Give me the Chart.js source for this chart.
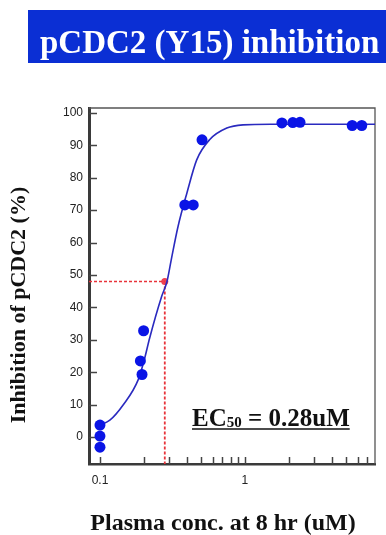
<!DOCTYPE html>
<html>
<head>
<meta charset="utf-8">
<script src="https://cdn.jsdelivr.net/npm/chart.js@4/dist/chart.umd.min.js"></script>
<style>
  html, body { margin: 0; padding: 0; background: #fff; }
  #wrap { width: 386px; height: 535px; position: relative; }
</style>
</head>
<body>
<div id="wrap"><canvas id="grafico"></canvas></div>
<script>
// valores
const pontosX = [0.1, 0.1, 0.1, 0.19, 0.195, 0.2, 0.385, 0.44, 0.506, 1.8, 2.14, 2.4, 5.5, 6.4];
const pontosY = [3.7, 0.3, -3.1, 23.5, 19.3, 32.8, 71.6, 71.6, 91.7, 96.9, 97.0, 97.1, 96.1, 96.1];

const curvaX = [0.1, 0.117, 0.144, 0.184, 0.202, 0.22, 0.267, 0.29, 0.31, 0.345, 0.398, 0.465, 0.57, 0.75, 0.97, 1.5, 3, 7.9];
const curvaY = [3.7, 5.2, 9.8, 17.8, 23.8, 30.5, 43.5, 48, 54.6, 64.8, 75.3, 85.5, 91.7, 95.3, 96.3, 96.5, 96.5, 96.5];

const ec50X = 0.28;
const ec50Y = 48;

const ticksY = [0, 10, 20, 30, 40, 50, 60, 70, 80, 90, 100];
const ticksX = [0.1, 0.2, 0.3, 0.4, 0.5, 0.6, 0.7, 0.8, 0.9, 1, 2, 3, 4, 5, 6, 7];
const rotulosX = [0.1, 1];

const limitesX = [0.084, 7.9];
const limitesY = [-8.3, 101.5];

const titulo = 'pCDC2 (Y15) inhibition';
const tituloY = 'Inhibition of pCDC2 (%)';
const tituloX = 'Plasma conc. at 8 hr (uM)';

const juntar = (xs, ys) => xs.map((x, i) => ({ x: x, y: ys[i] }));

// desenha título, eixos e anotação EC50
const decoracao = {
    id: 'decoracao',
    beforeDraw(chart) {
        const ctx = chart.ctx;
        ctx.save();
        ctx.fillStyle = '#0b2fd4';
        ctx.fillRect(28, 10, 358, 53);
        ctx.fillStyle = '#ffffff';
        ctx.font = 'bold 33px "Liberation Serif"';
        ctx.textBaseline = 'alphabetic';
        ctx.fillText(titulo, 40, 53, 342);
        ctx.restore();
    },
    beforeDatasetsDraw(chart) {
        const ctx = chart.ctx;
        const a = chart.chartArea;
        const sx = chart.scales.x;
        const sy = chart.scales.y;
        ctx.save();
        // bordas superior e direita
        ctx.strokeStyle = '#555';
        ctx.lineWidth = 1.3;
        ctx.beginPath();
        ctx.moveTo(a.left, a.top);
        ctx.lineTo(a.right, a.top);
        ctx.lineTo(a.right, a.bottom);
        ctx.stroke();
        // marcas internas
        ctx.strokeStyle = '#444';
        ctx.lineWidth = 1.5;
        ticksY.forEach(v => {
            const py = Math.round(sy.getPixelForValue(v)) + 0.5;
            ctx.beginPath();
            ctx.moveTo(a.left, py);
            ctx.lineTo(a.left + 8, py);
            ctx.stroke();
        });
        ticksX.forEach(v => {
            const px = Math.round(sx.getPixelForValue(v)) + 0.5;
            ctx.beginPath();
            ctx.moveTo(px, a.bottom);
            ctx.lineTo(px, a.bottom - 7);
            ctx.stroke();
        });
        ctx.restore();
    },
    afterDraw(chart) {
        const ctx = chart.ctx;
        ctx.save();
        ctx.fillStyle = '#111';
        // título do eixo Y
        ctx.font = 'bold 22px "Liberation Serif"';
        ctx.translate(25, 305);
        ctx.rotate(-Math.PI / 2);
        ctx.textAlign = 'center';
        ctx.fillText(tituloY, 0, 0, 256);
        ctx.restore();

        ctx.save();
        ctx.fillStyle = '#111';
        ctx.font = 'bold 24px "Liberation Serif"';
        ctx.textAlign = 'center';
        ctx.fillText(tituloX, 223, 530, 272);

        // EC50
        ctx.textAlign = 'left';
        let x = 192;
        const base = 426;
        ctx.font = 'bold 25px "Liberation Serif"';
        ctx.fillText('EC', x, base);
        x += ctx.measureText('EC').width;
        ctx.font = 'bold 15px "Liberation Serif"';
        ctx.fillText('50', x, base + 1);
        x += ctx.measureText('50').width;
        ctx.font = 'bold 25px "Liberation Serif"';
        const resto = ' = ' + ec50X + 'uM';
        ctx.fillText(resto, x, base);
        x += ctx.measureText(resto).width;
        ctx.strokeStyle = '#111';
        ctx.lineWidth = 1.6;
        ctx.beginPath();
        ctx.moveTo(192, base + 3);
        ctx.lineTo(x, base + 3);
        ctx.stroke();
        ctx.restore();
    }
};

const ctx = document.getElementById('grafico');

new Chart(ctx, {
    type: 'scatter',
    data: {
        datasets: [{
            label: 'pontos',
            data: juntar(pontosX, pontosY),
            backgroundColor: '#0a14e6',
            borderColor: '#0a14e6',
            pointRadius: 5.5,
            borderWidth: 0,
            order: 0
        }, {
            label: 'curva',
            data: juntar(curvaX, curvaY),
            showLine: true,
            borderColor: '#2a2abf',
            borderWidth: 1.6,
            pointRadius: 0,
            cubicInterpolationMode: 'monotone',
            order: 1
        }, {
            label: 'ec50 horizontal',
            data: [{ x: limitesX[0], y: ec50Y }, { x: ec50X, y: ec50Y }],
            showLine: true,
            borderColor: '#e8333a',
            borderWidth: 1.6,
            borderDash: [3, 2],
            pointRadius: 0,
            order: 2
        }, {
            label: 'ec50 vertical',
            data: [{ x: ec50X, y: ec50Y }, { x: ec50X, y: limitesY[0] }],
            showLine: true,
            borderColor: '#e8333a',
            borderWidth: 1.8,
            borderDash: [3, 2],
            pointRadius: [3.5, 0],
            pointBackgroundColor: '#f04050',
            pointBorderWidth: 0,
            order: 2
        }]
    },
    options: {
        responsive: true,
        maintainAspectRatio: false,
        animation: false,
        layout: { padding: { top: 108, right: 11, left: 0, bottom: 0 } },
        plugins: {
            legend: { display: false },
            tooltip: { enabled: false }
        },
        scales: {
            x: {
                type: 'logarithmic',
                min: limitesX[0],
                max: limitesX[1],
                afterBuildTicks: (s) => { s.ticks = ticksX.map(v => ({ value: v })); },
                afterFit: (s) => { s.height = 71; },
                grid: { display: false, drawTicks: false },
                border: { display: true, color: '#3a3a3a', width: 2.5 },
                ticks: {
                    autoSkip: false,
                    maxRotation: 0,
                    padding: 9,
                    color: '#222',
                    font: { family: 'Liberation Sans', size: 12 },
                    callback: (v) => rotulosX.includes(v) ? String(v) : ''
                }
            },
            y: {
                type: 'linear',
                min: limitesY[0],
                max: limitesY[1],
                afterBuildTicks: (s) => { s.ticks = ticksY.map(v => ({ value: v })); },
                afterFit: (s) => { s.width = 89; },
                grid: { display: false, drawTicks: false },
                border: { display: true, color: '#3a3a3a', width: 3 },
                ticks: {
                    padding: 6,
                    color: '#222',
                    font: { family: 'Liberation Sans', size: 12 }
                }
            }
        }
    },
    plugins: [decoracao]
});
</script>
</body>
</html>
